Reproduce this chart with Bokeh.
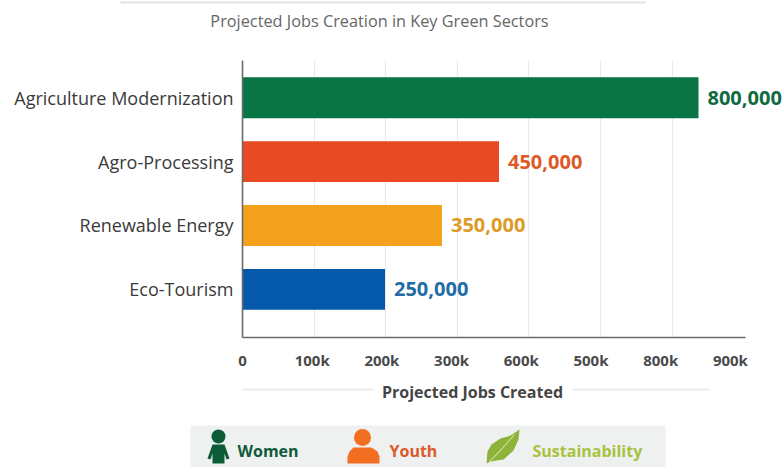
from bokeh.embed import file_html
from bokeh.models import FixedTicker, Grid, LinearAxis, Range1d
from bokeh.plotting import figure
from bokeh.resources import INLINE
from bokeh.core.properties import value

FONT = "Open Sans"

chart_title = "Projected Jobs Creation in Key Green Sectors"
axis_title = "Projected Jobs Created"
sectors = ["Agriculture Modernization", "Agro-Processing", "Renewable Energy", "Eco-Tourism"]
jobs = [800000, 450000, 350000, 250000]
job_labels = ["800,000", "450,000", "350,000", "250,000"]
bar_colors = ["#0a7544", "#e84a24", "#f4a11d", "#0559ab"]
label_colors = ["#0e6b3f", "#dc5a27", "#dc9b26", "#1f6ca6"]
tick_values = [0, 100000, 200000, 300000, 400000, 500000, 600000, 700000]
tick_labels = ["0", "100k", "200k", "300k", "600k", "500k", "800k", "900k"]
grid_values = [100000, 200000, 300000, 400000, 500000, 600000]
legend_names = ["Women", "Youth", "Sustainability"]
legend_colors = ["#0c5c38", "#db5a2a", "#a9c23f"]

WIDTH = 783
FRAME_LEFT = 242
FRAME_W = WIDTH - FRAME_LEFT
AXIS_END = 745
ROW_STEP = 63.9


def pixel_figure(height, top):
    """A bare figure whose data units are page pixels, y growing downwards."""
    f = figure(width=WIDTH, height=height, x_range=Range1d(0, WIDTH), y_range=Range1d(top + height, top),
               output_backend="svg", toolbar_location=None, min_border=0, outline_line_color=None)
    f.axis.visible = False
    f.grid.visible = False
    return f


# Header: rule and chart title
header = pixel_figure(60, 0)
header.segment([120], [2], [645], [2], line_color="#e3e3e3", line_width=2)
header.text([379], [20], text=[chart_title], text_font=value(FONT), text_font_size="16.3px",
            text_color="#666666", text_align="center", text_baseline="middle")

# Main chart: bars on a job scale, tick labels and grid on their own scales
x_per_px = 800000 / 456
main = figure(width=WIDTH, height=315, output_backend="svg", toolbar_location=None,
              x_range=Range1d(0, FRAME_W * x_per_px),
              y_range=Range1d(3 + 48.15 / ROW_STEP, -37.2 / ROW_STEP),
              min_border_left=FRAME_LEFT, min_border_right=0, min_border_top=0, min_border_bottom=38,
              outline_line_color=None, x_axis_location=None)
main.extra_x_ranges = {
    "ticks": Range1d(0, FRAME_W / 69.7 * 100000),
    "rules": Range1d(0, FRAME_W / 71.6 * 100000),
}
main.xgrid.visible = False
main.ygrid.visible = False
main.add_layout(Grid(dimension=0, ticker=FixedTicker(ticks=grid_values), x_range_name="rules",
                     grid_line_color="#e9e9e9", grid_line_width=1.2))

rows = list(range(len(sectors)))
main.hbar(y=rows, right=jobs, left=0, height=0.64, fill_color=bar_colors, line_color=None)
main.text(x=jobs, y=rows, text=job_labels, x_offset=9, text_font=value(FONT), text_font_size="20px",
          text_font_style="bold", text_color=label_colors, text_align="left", text_baseline="middle")

xaxis = LinearAxis(x_range_name="ticks", ticker=FixedTicker(ticks=tick_values),
                   bounds=(0, (AXIS_END - FRAME_LEFT) / 69.7 * 100000))
xaxis.major_label_overrides = dict(zip(tick_values, tick_labels))
xaxis.major_tick_line_color = None
xaxis.minor_tick_line_color = None
xaxis.axis_line_color = "#6a6a6a"
xaxis.axis_line_width = 1.6
xaxis.major_label_standoff = 6
xaxis.major_label_text_font = FONT
xaxis.major_label_text_font_size = "15px"
xaxis.major_label_text_font_style = "bold"
xaxis.major_label_text_color = "#4a4a4a"
main.add_layout(xaxis, "below")

yaxis = main.yaxis[0]
yaxis.ticker = FixedTicker(ticks=rows)
yaxis.major_label_overrides = dict(zip(rows, sectors))
yaxis.major_tick_line_color = None
yaxis.minor_tick_line_color = None
yaxis.axis_line_color = "#6a6a6a"
yaxis.axis_line_width = 1.6
yaxis.major_label_standoff = 3
yaxis.major_label_text_font = FONT
yaxis.major_label_text_font_size = "18px"
yaxis.major_label_text_color = "#3a3a3a"

# Footer: axis title with side rules, and the icon legend
footer = pixel_figure(92, 375)
footer.segment([242, 572], [389, 389], [373, 709], [389, 389], line_color="#e6e6e6", line_width=1.5)
footer.text([472], [391], text=[axis_title], text_font=value(FONT), text_font_size="16px",
            text_font_style="bold", text_color="#444444", text_align="center", text_baseline="middle")
footer.quad(left=[190], right=[665], top=[425], bottom=[467], fill_color="#eff0f0", line_color=None)

# Woman icon
footer.circle([218], [436], radius=7, fill_color="#0c5c38", line_color=None)
footer.patch([212, 224, 229, 226, 224, 224, 212, 212, 210, 207],
             [444, 444, 458, 459, 453, 463, 463, 453, 459, 458], fill_color="#0c5c38", line_color=None)
# Youth icon
footer.circle([362], [437], radius=8.5, fill_color="#f26f21", line_color=None)
footer.patch([353, 371, 377, 379, 379, 347, 347, 349],
             [447, 447, 451, 456, 463, 463, 456, 451], fill_color="#f26f21", line_color=None)
# Leaf icon with its vein
footer.patch([519, 510, 500, 491, 487, 486, 490, 503, 513, 518],
             [429, 435, 438, 444, 451, 463, 461, 459, 450, 439], fill_color="#8db33a", line_color=None)
footer.line([489, 500, 514], [461, 450, 434], line_color="#c4d98a", line_width=1.2)

footer.text([237, 389, 532], [450, 450, 450], text=legend_names, text_font=value(FONT), text_font_size="16px",
            text_font_style="bold", text_color=legend_colors, text_align="left", text_baseline="middle")

open("out.html", "w").write(file_html([header, main, footer], INLINE))
